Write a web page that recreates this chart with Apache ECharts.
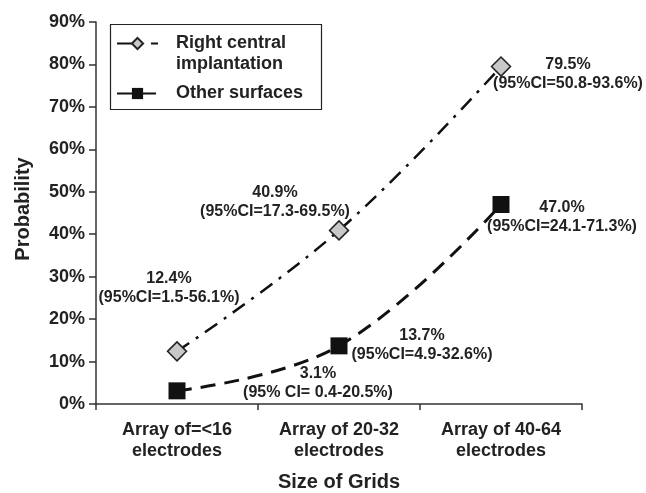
<!DOCTYPE html>
<html>
<head>
<meta charset="utf-8">
<script src="https://cdn.jsdelivr.net/npm/echarts@6/dist/echarts.min.js"></script>
<style>html,body{margin:0;padding:0;background:#fff}#c{width:646px;height:493px}</style>
</head>
<body>
<div id="c"></div>
<script>
const categories = ['Array of=<16\nelectrodes', 'Array of 20-32\nelectrodes', 'Array of 40-64\nelectrodes'];
const rightCentral = [12.4, 40.9, 79.5];
const otherSurfaces = [3.1, 13.7, 47.0];
const rightCentralLabels = ['12.4%\n(95%CI=1.5-56.1%)', '40.9%\n(95%CI=17.3-69.5%)', '79.5%\n(95%CI=50.8-93.6%)'];
const otherSurfacesLabels = ['3.1%\n(95% CI= 0.4-20.5%)', '13.7%\n(95%CI=4.9-32.6%)', '47.0%\n(95%CI=24.1-71.3%)'];
const yTicks = [0, 10, 20, 30, 40, 50, 60, 70, 80, 90];
const seriesNames = ['Right central\nimplantation', 'Other surfaces'];

const FONT = '"Liberation Sans", Arial, sans-serif';
const TXT = '#222';
const rcOffsets = [[-8, -63], [-64, -28], [67, 8]];
const osOffsets = [[141, -8], [83, -1], [61, 13]];

function mk(vals, labels, offs) {
  return vals.map((v, i) => ({
    value: v,
    label: { show: true, formatter: labels[i], offset: offs[i] }
  }));
}

const legendText = { fontFamily: FONT, fontSize: 18, fontWeight: 'bold', color: TXT, lineHeight: 21 };

const chart = echarts.init(document.getElementById('c'), null, { renderer: 'canvas' });
chart.setOption({
  animation: false,
  grid: { left: 96, right: 64, top: 22, bottom: 89, containLabel: false, outerBoundsMode: 'none' },
  graphic: [{
    type: 'rect', shape: { x: 110.5, y: 24.5, width: 211, height: 85 },
    style: { fill: 'none', stroke: '#222', lineWidth: 1.2 }, z: 10
  }],
  legend: [
    {
      orient: 'vertical', left: 116, top: 12, padding: 0,
      itemWidth: 41, itemHeight: 14,
      data: [seriesNames[0]],
      formatter: function (n) {
        const p = n.split('\n');
        return '{e| }\n{a|' + p[0] + '}\n{a|' + p[1] + '}';
      },
      textStyle: Object.assign({}, legendText, {
        padding: [0, 0, 0, 13],
        rich: {
          e: { lineHeight: 21, fontSize: 18 },
          a: Object.assign({}, legendText)
        }
      })
    },
    {
      orient: 'vertical', left: 116, top: 83, padding: 0,
      itemWidth: 41, itemHeight: 14,
      data: [seriesNames[1]],
      textStyle: Object.assign({}, legendText, { padding: [0, 0, 0, 13] })
    }
  ],
  xAxis: {
    type: 'category', data: categories, boundaryGap: true,
    axisLine: { lineStyle: { color: '#333', width: 1.5 } },
    axisTick: { show: true, length: 6, inside: false, alignWithLabel: false, lineStyle: { color: '#333', width: 1.5 } },
    axisLabel: { fontFamily: FONT, fontSize: 18, fontWeight: 'bold', color: TXT, lineHeight: 21, margin: 16 },
    name: 'Size of Grids', nameLocation: 'middle', nameGap: 68,
    nameTextStyle: { fontFamily: FONT, fontSize: 20, fontWeight: 'bold', color: TXT }
  },
  yAxis: {
    type: 'value', min: 0, max: 90, interval: 10,
    axisLine: { show: true, lineStyle: { color: '#333', width: 1.5 } },
    axisTick: { show: true, length: 7, lineStyle: { color: '#333', width: 1.5 } },
    splitLine: { show: false },
    axisLabel: { fontFamily: FONT, fontSize: 18, fontWeight: 'bold', color: TXT, margin: 11,
      formatter: v => (yTicks.indexOf(v) >= 0 ? v + '%' : '') },
    name: 'Probability', nameLocation: 'middle', nameGap: 63,
    nameTextStyle: { fontFamily: FONT, fontSize: 20, fontWeight: 'bold', color: TXT, padding: [0, 0, 0, 8] }
  },
  series: [
    {
      name: seriesNames[0], type: 'line', smooth: 0.4,
      data: mk(rightCentral, rightCentralLabels, rcOffsets),
      symbol: 'diamond', symbolSize: 19,
      itemStyle: { color: '#c8c8c8', borderColor: '#222', borderWidth: 1.5 },
      lineStyle: { color: '#111', width: 2.5, type: [15, 8, 3, 8] },
      label: { position: 'inside', fontFamily: FONT, fontSize: 16, fontWeight: 'bold', color: TXT, lineHeight: 19, align: 'center', verticalAlign: 'middle' },
      z: 3
    },
    {
      name: seriesNames[1], type: 'line', smooth: 0.4,
      data: mk(otherSurfaces, otherSurfacesLabels, osOffsets),
      symbol: 'rect', symbolSize: 17,
      itemStyle: { color: '#111', borderColor: '#111', borderWidth: 0 },
      lineStyle: { color: '#111', width: 3, type: [15, 9] },
      label: { position: 'inside', fontFamily: FONT, fontSize: 16, fontWeight: 'bold', color: TXT, lineHeight: 19, align: 'center', verticalAlign: 'middle' },
      z: 3
    }
  ]
});
</script>
</body>
</html>
